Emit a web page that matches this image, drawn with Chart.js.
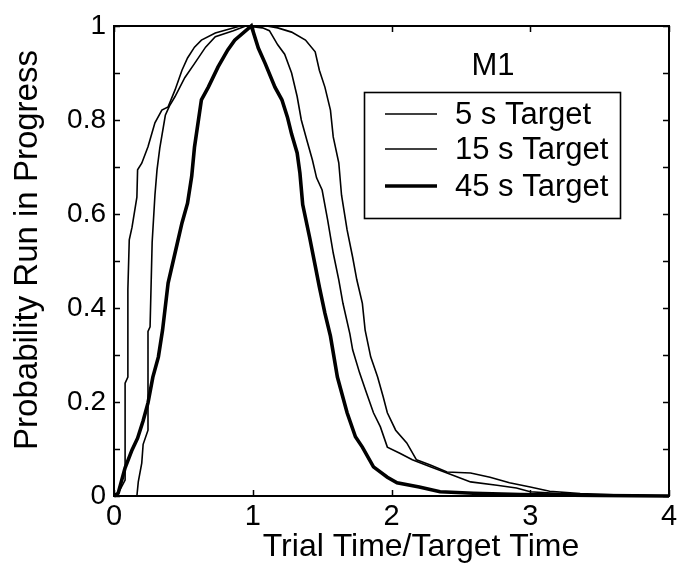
<!DOCTYPE html>
<html>
<head>
<meta charset="utf-8">
<script src="https://cdn.jsdelivr.net/npm/chart.js@4.4.1/dist/chart.umd.min.js"></script>
<style>
  html, body { margin: 0; padding: 0; background: #ffffff; }
  #wrap { width: 684px; height: 567px; }
</style>
</head>
<body>
<div id="wrap"><canvas id="c" width="684" height="567"></canvas></div>
<script>
// ---- Data ----
const seriesNames = ["5 s Target", "15 s Target", "45 s Target"];

const x5 = [0, 0.02, 0.08, 0.08, 0.10, 0.10, 0.11, 0.13, 0.165, 0.17, 0.2, 0.245, 0.295, 0.345, 0.39, 0.44, 0.49, 0.53, 0.58, 0.63, 0.73, 0.8, 0.91, 1.0, 1.1, 1.18, 1.28, 1.38, 1.45, 1.48, 1.52, 1.56, 1.58, 1.62, 1.64, 1.68, 1.72, 1.75, 1.79, 1.81, 1.85, 1.9, 1.94, 1.97, 2.03, 2.11, 2.18, 2.28, 2.4, 2.57, 2.71, 2.85, 3.0, 3.14, 3.36, 3.65, 4.0];
const y5 = [0, 0, 0.034, 0.24, 0.253, 0.44, 0.545, 0.572, 0.636, 0.694, 0.708, 0.743, 0.794, 0.821, 0.828, 0.864, 0.906, 0.932, 0.955, 0.97, 0.985, 0.991, 1.0, 1.0, 1.0, 0.996, 0.987, 0.97, 0.945, 0.906, 0.87, 0.821, 0.764, 0.709, 0.64, 0.566, 0.508, 0.46, 0.41, 0.353, 0.296, 0.253, 0.211, 0.177, 0.14, 0.113, 0.077, 0.066, 0.051, 0.049, 0.04, 0.028, 0.019, 0.01, 0.005, 0.002, 0];

const x15 = [0, 0.165, 0.175, 0.2, 0.21, 0.245, 0.245, 0.26, 0.275, 0.295, 0.31, 0.33, 0.37, 0.4, 0.44, 0.51, 0.58, 0.66, 0.73, 0.86, 0.95, 1.07, 1.12, 1.18, 1.23, 1.28, 1.32, 1.35, 1.39, 1.43, 1.46, 1.5, 1.54, 1.58, 1.62, 1.65, 1.7, 1.72, 1.77, 1.82, 1.87, 1.92, 1.97, 2.06, 2.15, 2.28, 2.4, 2.57, 2.76, 2.9, 3.0, 3.21, 3.5, 4.0];
const y15 = [0, 0, 0.03, 0.07, 0.11, 0.14, 0.35, 0.36, 0.54, 0.64, 0.694, 0.74, 0.81, 0.83, 0.85, 0.89, 0.92, 0.955, 0.977, 0.99, 1.0, 0.996, 0.99, 0.96, 0.94, 0.9, 0.85, 0.8, 0.757, 0.715, 0.677, 0.651, 0.587, 0.517, 0.46, 0.41, 0.345, 0.311, 0.262, 0.219, 0.177, 0.147, 0.104, 0.091, 0.077, 0.062, 0.049, 0.03, 0.023, 0.017, 0.009, 0.005, 0.002, 0];

const x45 = [0, 0.03, 0.08, 0.13, 0.17, 0.21, 0.245, 0.28, 0.32, 0.35, 0.39, 0.44, 0.49, 0.53, 0.56, 0.58, 0.63, 0.68, 0.75, 0.82, 0.87, 0.99, 1.04, 1.09, 1.16, 1.21, 1.25, 1.28, 1.32, 1.34, 1.36, 1.41, 1.45, 1.48, 1.52, 1.56, 1.61, 1.68, 1.74, 1.79, 1.87, 1.97, 2.04, 2.2, 2.35, 2.59, 2.93, 3.5, 4.0];
const y45 = [0, 0.006, 0.06, 0.098, 0.123, 0.16, 0.198, 0.253, 0.296, 0.353, 0.453, 0.517, 0.581, 0.623, 0.68, 0.742, 0.843, 0.87, 0.913, 0.949, 0.97, 1.0, 0.953, 0.92, 0.87, 0.843, 0.806, 0.77, 0.73, 0.687, 0.62, 0.55, 0.49, 0.445, 0.389, 0.34, 0.253, 0.177, 0.126, 0.104, 0.062, 0.04, 0.028, 0.019, 0.009, 0.006, 0.003, 0.001, 0];

const xTicks = [0, 1, 2, 3, 4];
const yTickLabels = ["0", "0.2", "0.4", "0.6", "0.8", "1"];
const legendTitle = "M1";
const xTitle = "Trial Time/Target Time";
const yTitle = "Probability Run in Progress";

// ---- Build chart ----
const FONT = "'Liberation Sans', Arial, sans-serif";
function pts(xs, ys) { return xs.map((v, i) => ({ x: v, y: ys[i] })); }

const widths = [1.6, 1.6, 3.6];
const datasets = [
  { label: seriesNames[0], data: pts(x5, y5) },
  { label: seriesNames[1], data: pts(x15, y15) },
  { label: seriesNames[2], data: pts(x45, y45) }
].map((d, i) => Object.assign(d, {
  borderColor: '#000', borderWidth: widths[i], pointRadius: 0, fill: false,
  tension: 0, clip: 4, borderJoinStyle: 'miter'
}));

const framePlugin = {
  id: 'frame',
  afterDraw(chart) {
    const { ctx, chartArea: a, scales } = chart;
    ctx.save();
    ctx.strokeStyle = '#000';
    ctx.lineWidth = 2;
    ctx.strokeRect(a.left, a.top, a.right - a.left, a.bottom - a.top);
    ctx.lineWidth = 1.5;
    const tl = 6;
    for (let k = 0; k <= 10; k++) {
      const py = Math.round(scales.y.getPixelForValue(k / 10)) + 0.5;
      ctx.beginPath();
      ctx.moveTo(a.left, py); ctx.lineTo(a.left + tl, py);
      ctx.moveTo(a.right, py); ctx.lineTo(a.right - tl, py);
      ctx.stroke();
    }
    xTicks.forEach(v => {
      const px = Math.round(scales.x.getPixelForValue(v)) + 0.5;
      ctx.beginPath();
      ctx.moveTo(px, a.bottom); ctx.lineTo(px, a.bottom - tl);
      ctx.moveTo(px, a.top); ctx.lineTo(px, a.top + tl);
      ctx.stroke();
    });
    // axis titles
    ctx.fillStyle = '#000';
    ctx.textBaseline = 'middle';
    ctx.textAlign = 'center';
    ctx.font = "32px " + FONT;
    ctx.fillText(xTitle, 421, 547);
    ctx.save();
    ctx.translate(28, 250);
    ctx.rotate(-Math.PI / 2);
    ctx.font = "33px " + FONT;
    ctx.fillText(yTitle, 0, 0);
    ctx.restore();
    // legend
    ctx.font = "31px " + FONT;
    ctx.fillText(legendTitle, 493, 66);
    ctx.fillStyle = '#fff';
    ctx.fillRect(364, 92, 256, 126);
    ctx.lineWidth = 1.6;
    ctx.strokeRect(364.5, 92.5, 256, 126);
    const rows = [114, 149, 186];
    chart.data.datasets.forEach((ds, i) => {
      ctx.lineWidth = ds.borderWidth;
      ctx.beginPath();
      ctx.moveTo(385, rows[i]); ctx.lineTo(437, rows[i]);
      ctx.stroke();
      ctx.fillStyle = '#000';
      ctx.textAlign = 'left';
      ctx.fillText(ds.label, 455, rows[i] + 1);
    });
    ctx.restore();
  }
};

new Chart(document.getElementById('c'), {
  type: 'line',
  data: { datasets },
  options: {
    responsive: false,
    animation: false,
    events: [],
    layout: { padding: { left: 0, top: 26, right: 15, bottom: 0 } },
    plugins: { legend: { display: false }, tooltip: { enabled: false } },
    scales: {
      x: {
        type: 'linear', min: 0, max: 4,
        border: { display: false },
        grid: { display: false, drawTicks: false },
        afterBuildTicks: s => { s.ticks = xTicks.map(v => ({ value: v })); },
        ticks: { color: '#000', font: { family: FONT, size: 29 }, padding: 4, maxRotation: 0 },
        title: { display: false },
        afterFit: s => { s.height = 71; }
      },
      y: {
        type: 'linear', min: 0, max: 1,
        border: { display: false },
        grid: { display: false, drawTicks: false },
        afterBuildTicks: s => { s.ticks = yTickLabels.map(t => ({ value: parseFloat(t) })); },
        ticks: { color: '#000', font: { family: FONT, size: 28 }, padding: 8,
                 callback: (v, i) => yTickLabels[i] },
        title: { display: false },
        afterFit: s => { s.width = 114; }
      }
    }
  },
  plugins: [framePlugin]
});
</script>
</body>
</html>
